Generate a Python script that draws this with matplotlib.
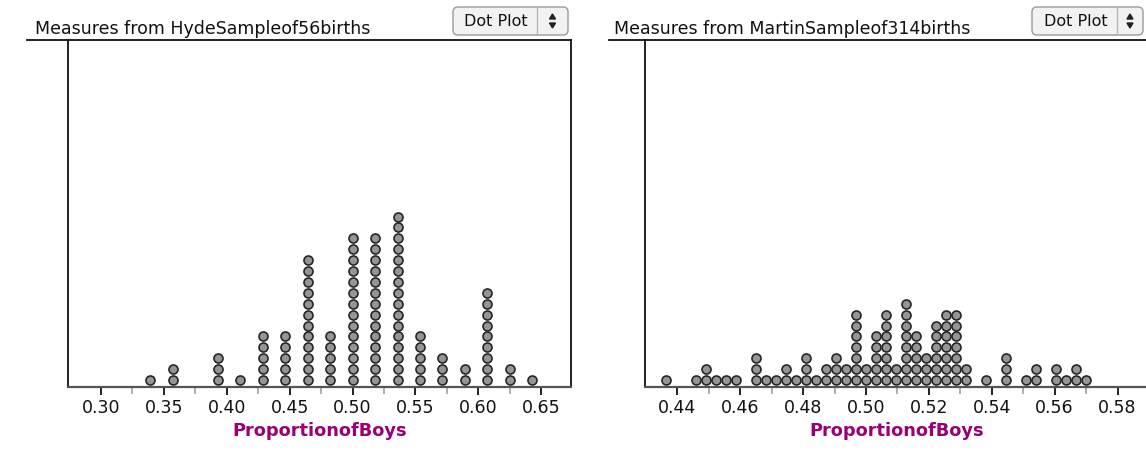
import numpy as np
import matplotlib.pyplot as plt
from matplotlib.patches import FancyBboxPatch, Polygon
from matplotlib.lines import Line2D

# Hyde sample: number of boys out of 56 births, and how many samples gave it
hyde_n = 56
hyde_boys = [19, 20, 22, 23, 24, 25, 26, 27, 28, 29, 30, 31, 32, 33, 34, 35, 36]
hyde_counts = [1, 2, 3, 1, 5, 5, 12, 5, 14, 14, 16, 5, 3, 2, 9, 2, 1]

# Martin sample: number of boys out of 314 births
martin_n = 314
martin_boys = [137, 140, 141, 142, 143, 144, 146, 147, 148, 149, 150, 151, 152,
               153, 154, 155, 156, 157, 158, 159, 160, 161, 162, 163, 164, 165,
               166, 167, 169, 171, 173, 174, 176, 177, 178, 179]
martin_counts = [1, 1, 2, 1, 1, 1, 3, 1, 1, 2, 1, 3, 1, 2, 3, 2, 7, 2, 5, 7, 2,
                 8, 5, 3, 6, 7, 7, 2, 1, 3, 1, 2, 2, 1, 2, 1]

hyde_ticks = [0.30, 0.35, 0.40, 0.45, 0.50, 0.55, 0.60, 0.65]
martin_ticks = [0.44, 0.46, 0.48, 0.50, 0.52, 0.54, 0.56, 0.58]

W, H = 1146, 454
fig = plt.figure(figsize=(W / 100, H / 100), dpi=100)
fig.patch.set_facecolor('white')


def px_axes(x0, x1, y0, y1):
    return fig.add_axes([x0 / W, 1 - y1 / H, (x1 - x0) / W, (y1 - y0) / H])


def dot_plot(ax, boys, counts, n, ticks, xlim, minor):
    xs, ys = [], []
    for b, c in zip(boys, counts):
        for i in range(c):
            xs.append(b / n)
            ys.append(i)
    ax.plot(xs, ys, 'o', ms=6.5, mfc='#959595', mec='#262626', mew=1.2,
            clip_on=False)
    ax.set_xlim(*xlim)
    ax.set_ylim(-0.64, 347 / 10.9 - 0.64)
    ax.set_yticks([])
    ax.set_xticks(ticks)
    ax.set_xticklabels(['%.2f' % t for t in ticks], fontsize=12.5, color='#111111')
    ax.set_xticks(minor, minor=True)
    ax.tick_params(axis='x', which='major', direction='out', length=5.5,
                   width=1.3, color='#111111', pad=3)
    ax.tick_params(axis='x', which='minor', direction='out', length=5,
                   width=1.2, color='#a0a0a0')
    ax.spines['top'].set_visible(False)
    ax.spines['bottom'].set_color('#555555')
    ax.spines['bottom'].set_linewidth(1.6)
    ax.spines['left'].set_color('#111111')
    ax.spines['left'].set_linewidth(1.3)
    ax.spines['right'].set_color('#111111')
    ax.spines['right'].set_linewidth(1.3)
    ax.set_xlabel('ProportionofBoys', fontsize=12.8, fontweight='bold',
                  color='#990077', labelpad=4)


ax1 = px_axes(68, 571, 40, 387)
dot_plot(ax1, hyde_boys, hyde_counts, hyde_n, hyde_ticks, (0.2738, 0.6736),
         [t + 0.025 for t in hyde_ticks[:-1]])

ax2 = px_axes(645, 1149, 40, 387)
dot_plot(ax2, martin_boys, martin_counts, martin_n, martin_ticks,
         (0.42974, 0.42974 + 504 / 3148),
         [t + 0.01 for t in martin_ticks])
ax2.spines['right'].set_visible(False)

# overlay in pixel coordinates for titles, top rules and buttons
ov = fig.add_axes([0, 0, 1, 1], zorder=5)
ov.set_xlim(0, W)
ov.set_ylim(H, 0)
ov.axis('off')
ov.patch.set_alpha(0)

ov.add_line(Line2D([27, 571], [40, 40], color='#111111', lw=1.3))
ov.add_line(Line2D([609, 1146], [40, 40], color='#111111', lw=1.3))
ov.text(35, 34, 'Measures from HydeSampleof56births', fontsize=12.5,
        color='#111111', va='baseline')
ov.text(614, 34, 'Measures from MartinSampleof314births', fontsize=12.5,
        color='#111111', va='baseline')


def button(x0, x1, xdiv):
    ov.add_patch(FancyBboxPatch((x0 + 3, 10), x1 - x0 - 6, 22,
                                boxstyle='round,pad=3,rounding_size=5',
                                fc='#f2f2f2', ec='#9a9a9a', lw=1.0))
    ov.add_line(Line2D([xdiv, xdiv], [8, 34], color='#b5b5b5', lw=1.0))
    ov.text((x0 + xdiv) / 2 + 1, 21, 'Dot Plot', fontsize=11.5, color='#111111',
            ha='center', va='center')
    cx = (xdiv + x1) / 2
    ov.add_patch(Polygon([[cx - 3, 19], [cx + 3, 19], [cx, 14]], color='#222222'))
    ov.add_patch(Polygon([[cx - 3, 23], [cx + 3, 23], [cx, 28]], color='#222222'))


button(453, 568, 537)
button(1032, 1143, 1117)

fig.savefig('out.png', dpi=100)
